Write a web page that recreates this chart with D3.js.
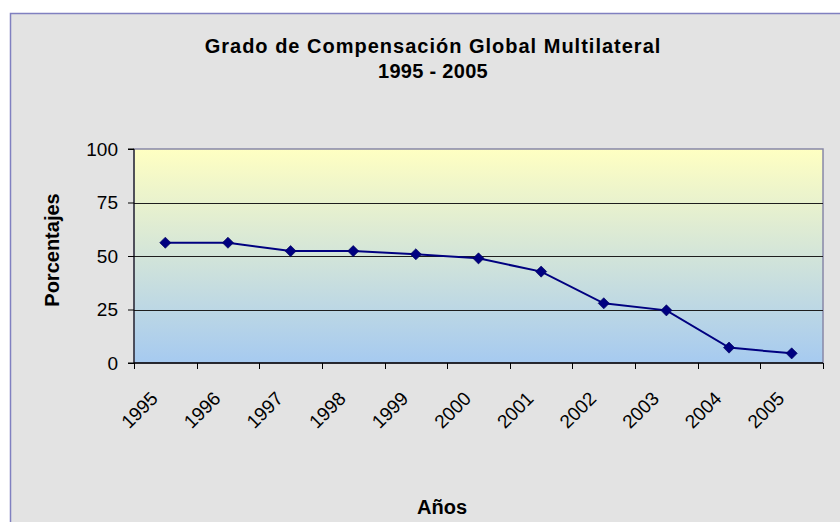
<!DOCTYPE html>
<html>
<head>
<meta charset="utf-8">
<script src="https://cdn.jsdelivr.net/npm/d3@7"></script>
<style>
  body { margin: 0; background: #fff; }
  svg { display: block; font-family: "Liberation Sans", Arial, sans-serif; }
</style>
</head>
<body>
<svg id="chart" width="840" height="522"></svg>
<script>
// data
const years = ["1995", "1996", "1997", "1998", "1999", "2000", "2001", "2002", "2003", "2004", "2005"];
const values = [56.2, 56.2, 52.3, 52.3, 50.8, 48.9, 42.7, 27.9, 24.6, 7.2, 4.5];
const yTicks = [0, 25, 50, 75, 100];

const titleLines = ["Grado de Compensación Global Multilateral", "1995 - 2005"];
const yTitle = "Porcentajes";
const xTitle = "Años";

const svg = d3.select("#chart");

const plot = { left: 134, top: 149, right: 823, bottom: 363 };

// outer chart frame (runs past the window on right/bottom)
svg.append("rect")
  .attr("x", 10.5).attr("y", 13.5)
  .attr("width", 900).attr("height", 600)
  .attr("fill", "#e3e3e3")
  .attr("stroke", "#8080c0")
  .attr("stroke-width", 1.5);

const defs = svg.append("defs");
const grad = defs.append("linearGradient")
  .attr("id", "bg").attr("x1", 0).attr("y1", 0).attr("x2", 0).attr("y2", 1);
grad.append("stop").attr("offset", "0%").attr("stop-color", "#ffffc2");
grad.append("stop").attr("offset", "100%").attr("stop-color", "#a6caf0");

const x = d3.scaleBand()
  .domain(years)
  .range([plot.left, plot.right]);

const y = d3.scaleLinear()
  .domain([0, 100])
  .range([plot.bottom, plot.top]);

svg.append("rect")
  .attr("x", plot.left).attr("y", plot.top)
  .attr("width", plot.right - plot.left)
  .attr("height", plot.bottom - plot.top)
  .attr("fill", "url(#bg)")
  .attr("stroke", "#8888a8")
  .attr("stroke-width", 1.5);

// gridlines
svg.append("g")
  .selectAll("line")
  .data(yTicks.filter(d => d > 0 && d < 100))
  .join("line")
    .attr("x1", plot.left).attr("x2", plot.right)
    .attr("y1", d => Math.round(y(d)) + 0.5).attr("y2", d => Math.round(y(d)) + 0.5)
    .attr("stroke", "#1e1e1e")
    .attr("stroke-width", 1);

// y axis
const yAxis = svg.append("g")
  .attr("transform", `translate(${plot.left},0)`)
  .call(d3.axisLeft(y).tickValues(yTicks).tickSize(6).tickPadding(10));
yAxis.selectAll("text").attr("font-size", 19).attr("fill", "#000").attr("font-family", "inherit");
yAxis.selectAll("line, path").attr("stroke", "#000");
yAxis.select(".domain").attr("d", `M-6,${plot.top}H0V${plot.bottom}H-6`);

// x axis: ticks on band edges
const xAxis = svg.append("g").attr("transform", `translate(0,${plot.bottom})`);
xAxis.append("line")
  .attr("x1", plot.left).attr("x2", plot.right)
  .attr("stroke", "#000").attr("stroke-width", 1.5);
xAxis.selectAll(".tick")
  .data(years.concat(["end"]))
  .join("line")
    .attr("class", "tick")
    .attr("x1", (d, i) => Math.round(plot.left + i * x.step()) + 0.5)
    .attr("x2", (d, i) => Math.round(plot.left + i * x.step()) + 0.5)
    .attr("y1", 0).attr("y2", 6)
    .attr("stroke", "#000");
xAxis.selectAll(".label")
  .data(years)
  .join("text")
    .attr("class", "label")
    .attr("transform", d => `translate(${x(d) + x.bandwidth() / 2 - 11},${32}) rotate(-45)`)
    .attr("text-anchor", "end")
    .attr("dy", "0.35em")
    .attr("font-size", 19)
    .text(d => d);

// series line + diamond markers
const line = d3.line()
  .x((d, i) => x(years[i]) + x.bandwidth() / 2)
  .y(d => y(d));

svg.append("path")
  .datum(values)
  .attr("d", line)
  .attr("fill", "none")
  .attr("stroke", "#000080")
  .attr("stroke-width", 2);

svg.append("g")
  .selectAll("path")
  .data(values)
  .join("path")
    .attr("d", d3.symbol(d3.symbolSquare, 62))
    .attr("transform", (d, i) => `translate(${x(years[i]) + x.bandwidth() / 2},${y(d)}) rotate(45)`)
    .attr("fill", "#000080")
    .attr("stroke", "#00005a")
    .attr("stroke-width", 0.6);

// titles (Excel spreads the letters a bit wider)
svg.append("g")
  .selectAll("text")
  .data(titleLines)
  .join("text")
    .attr("x", 433)
    .attr("y", (d, i) => 53 + i * 25)
    .attr("text-anchor", "middle")
    .attr("font-weight", "bold")
    .attr("font-size", 20)
    .attr("letter-spacing", (d, i) => i === 0 ? 1 : 0.3)
    .text(d => d);

svg.append("text")
  .attr("transform", "translate(59,250) rotate(-90)")
  .attr("text-anchor", "middle")
  .attr("font-weight", "bold")
  .attr("font-size", 20)
  .text(yTitle);

svg.append("text")
  .attr("x", 442).attr("y", 514)
  .attr("text-anchor", "middle")
  .attr("font-weight", "bold")
  .attr("font-size", 20)
  .text(xTitle);
</script>
</body>
</html>
